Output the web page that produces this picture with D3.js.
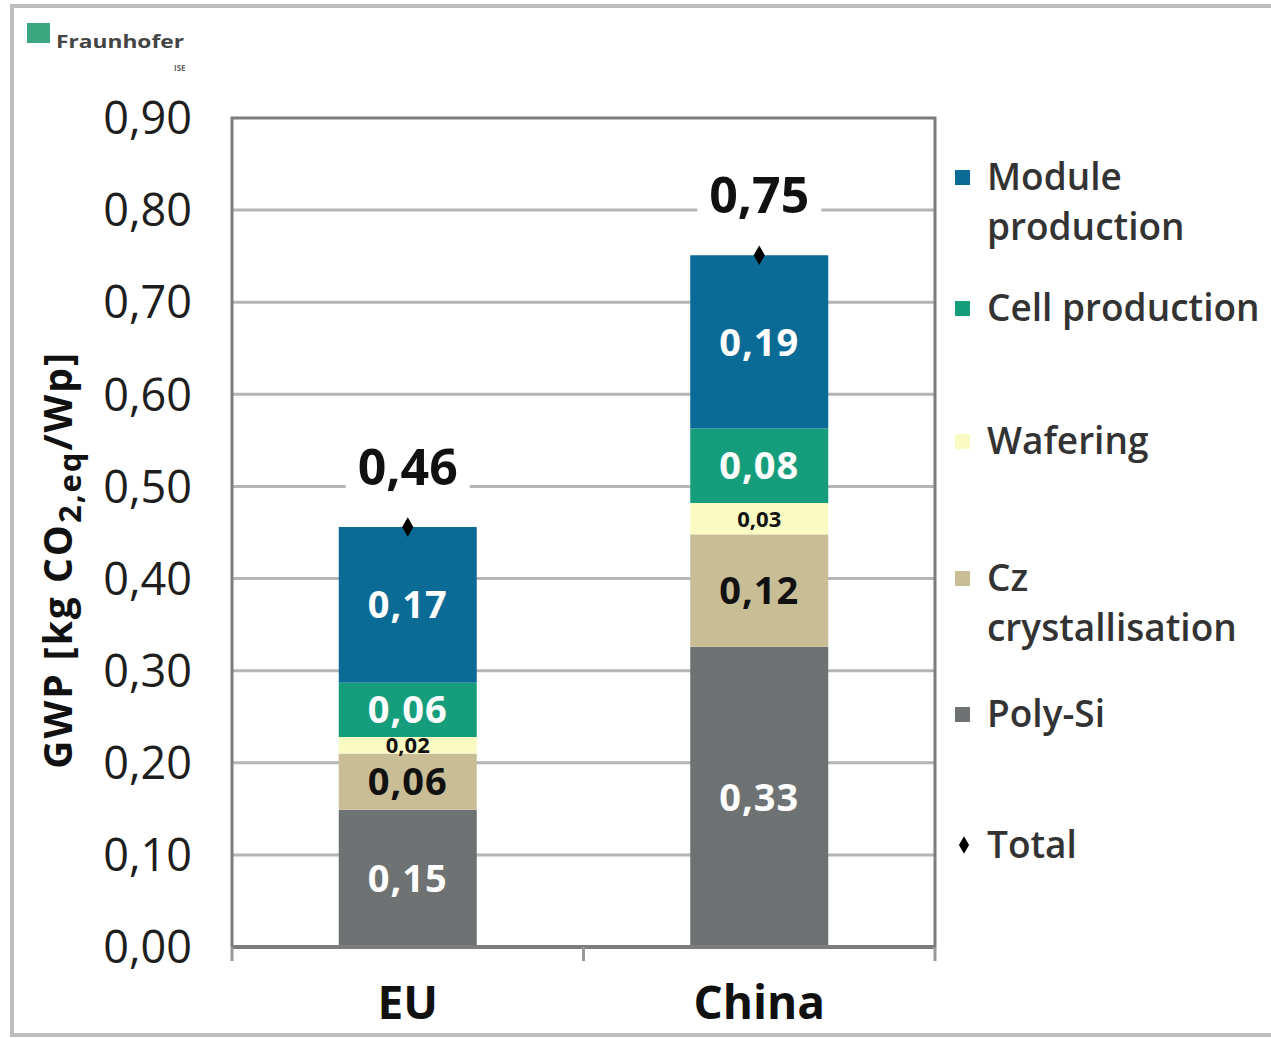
<!DOCTYPE html>
<html><head><meta charset="utf-8">
<script src="https://cdn.jsdelivr.net/npm/d3@7"></script>
<style>body{margin:0;background:#fff;}svg{display:block;}</style>
</head><body>
<svg id="c" width="1271" height="1038"></svg>
<script>
const categories = ["EU", "China"];
const seriesNames = ["Poly-Si", "Cz crystallisation", "Wafering", "Cell production", "Module production"];
const euValues = [0.149, 0.061, 0.018, 0.059, 0.169];
const chinaValues = [0.326, 0.122, 0.034, 0.081, 0.188];
const seriesColors = ["#6e7272", "#c9bd95", "#fafbc2", "#169e7c", "#0b6b97"];
const labelColors = ["#ffffff", "#111111", "#111111", "#ffffff", "#ffffff"];
const legendLines = [["Poly-Si"], ["Cz", "crystallisation"], ["Wafering"], ["Cell production"], ["Module", "production"]];
const yTicks = [0, 0.1, 0.2, 0.3, 0.4, 0.5, 0.6, 0.7, 0.8, 0.9];
const yTitle = "GWP [kg CO";

const svg = d3.select("#c");
const fmt = v => v.toFixed(2).replace(".", ",");
const FONT = "'Open Sans', 'Noto Sans', sans-serif";

// outer frame
svg.append("rect").attr("x", 12).attr("y", 6).attr("width", 1300).attr("height", 1029)
  .attr("fill", "none").attr("stroke", "#bdbdbd").attr("stroke-width", 4);

// logo
svg.append("rect").attr("x", 27).attr("y", 23).attr("width", 23).attr("height", 20).attr("fill", "#3aa57e");
svg.append("text").attr("x", 56).attr("y", 48).attr("font-family", FONT).attr("font-size", 18)
  .attr("font-weight", 700).attr("fill", "#444").attr("textLength", 128).attr("lengthAdjust", "spacingAndGlyphs").text("Fraunhofer");
svg.append("text").attr("x", 174).attr("y", 71).attr("font-family", FONT).attr("font-size", 8)
  .attr("font-weight", 700).attr("fill", "#666").text("ISE");

const x0 = 232, x1 = 935, yTop = 118, yBot = 947;
const y = d3.scaleLinear().domain([0, 0.9]).range([yBot, yTop]);
const x = d3.scaleBand().domain(categories).range([x0, x1]).paddingInner(0.6).paddingOuter(0.3);

// gridlines
svg.append("g").selectAll("line").data(yTicks.filter(t => t > 0 && t < 0.9)).join("line")
  .attr("x1", x0).attr("x2", x1).attr("y1", d => y(d)).attr("y2", d => y(d))
  .attr("stroke", "#b5b5b5").attr("stroke-width", 3);

// plot frame (left, top, right)
svg.append("path").attr("d", `M${x0},${yBot} V${yTop} H${x1} V${yBot}`)
  .attr("fill", "none").attr("stroke", "#7d7d7d").attr("stroke-width", 3);

// y axis tick labels
const yAxis = d3.axisLeft(y).tickValues(yTicks).tickSize(0).tickPadding(40).tickFormat(fmt);
const gy = svg.append("g").attr("transform", `translate(${x0},0)`).call(yAxis);
gy.select(".domain").remove();
gy.selectAll("text").attr("font-family", FONT).attr("font-size", 45).attr("fill", "#1e1e1e").attr("dy", "0.35em");

// stacked data
const rows = categories.map((c, i) => {
  const obj = { cat: c };
  const vals = i === 0 ? euValues : chinaValues;
  seriesNames.forEach((s, j) => obj[s] = vals[j]);
  return obj;
});
const stack = d3.stack().keys(seriesNames)(rows);

const bw = 138;
stack.forEach((layer, li) => {
  const g = svg.append("g");
  g.selectAll("rect").data(layer).join("rect")
    .attr("x", d => x(d.data.cat) + x.bandwidth() / 2 - bw / 2)
    .attr("width", bw)
    .attr("y", d => y(d[1]))
    .attr("height", d => y(d[0]) - y(d[1]))
    .attr("fill", seriesColors[li]);
  g.selectAll("text").data(layer).join("text")
    .attr("x", d => x(d.data.cat) + x.bandwidth() / 2)
    .attr("y", d => (y(d[0]) + y(d[1])) / 2)
    .attr("dy", "0.36em")
    .attr("text-anchor", "middle")
    .attr("font-family", FONT).attr("font-weight", 700)
    .attr("font-size", d => (d[1] - d[0]) < 0.05 ? 22 : 38)
    .attr("letter-spacing", d => (d[1] - d[0]) < 0.05 ? 0 : 1)
    .attr("fill", labelColors[li])
    .text(d => fmt(d[1] - d[0]));
});

// x axis
svg.append("line").attr("x1", x0).attr("x2", x1).attr("y1", yBot).attr("y2", yBot)
  .attr("stroke", "#7d7d7d").attr("stroke-width", 4);
const xAxis = d3.axisBottom(x).tickSize(0).tickPadding(39);
const gx = svg.append("g").attr("transform", `translate(0,${yBot})`).call(xAxis);
gx.select(".domain").remove();
gx.selectAll("text").attr("font-family", FONT).attr("font-size", 46).attr("font-weight", 700).attr("fill", "#111");
// category boundary ticks
const bounds = [x0, (x0 + x1) / 2, x1];
svg.append("g").selectAll("line").data(bounds).join("line")
  .attr("x1", d => d).attr("x2", d => d).attr("y1", yBot).attr("y2", yBot + 14)
  .attr("stroke", "#999").attr("stroke-width", 3);

// totals
const totals = rows.map((r, i) => ({ cat: r.cat, v: d3.sum(i === 0 ? euValues : chinaValues) }));
svg.append("g").selectAll("path").data(totals).join("path")
  .attr("d", d3.symbol().type(d3.symbolDiamond).size(110))
  .attr("transform", d => `translate(${x(d.cat) + x.bandwidth() / 2},${y(d.v)})`)
  .attr("fill", "#000");
const tg = svg.append("g").selectAll("g").data(totals).join("g")
  .attr("transform", d => `translate(${x(d.cat) + x.bandwidth() / 2},${y(d.v) - 60})`);
tg.append("rect").attr("x", -62).attr("y", -30).attr("width", 124).attr("height", 58).attr("fill", "#fff");
tg.append("text").attr("text-anchor", "middle").attr("dy", "0.36em")
  .attr("font-family", FONT).attr("font-weight", 700).attr("font-size", 50).attr("fill", "#111")
  .text(d => fmt(d.v));

// y title
const yt = svg.append("text").attr("transform", "translate(72,560) rotate(-90)")
  .attr("text-anchor", "middle").attr("font-family", FONT).attr("font-weight", 700)
  .attr("font-size", 39).attr("fill", "#111").attr("letter-spacing", 2);
yt.append("tspan").text(yTitle);
yt.append("tspan").attr("font-size", 31).attr("dy", 9).text("2,eq");
yt.append("tspan").attr("dy", -9).text("/Wp]");

// legend
const legendY = [714, 578, 441, 308, 177];
const lg = svg.append("g");
seriesNames.forEach((s, i) => {
  lg.append("rect").attr("x", 955).attr("y", legendY[i] - 7).attr("width", 15).attr("height", 15).attr("fill", seriesColors[i]);
  const t = lg.append("text").attr("x", 987).attr("y", legendY[i]).attr("dy", "0.36em")
    .attr("font-family", FONT).attr("font-weight", 600).attr("font-size", 37).attr("fill", "#333");
  legendLines[i].forEach((ln, k) => t.append("tspan").attr("x", 987).attr("dy", k === 0 ? "0.36em" : 50).text(ln));
});
lg.append("path").attr("d", d3.symbol().type(d3.symbolDiamond).size(90))
  .attr("transform", "translate(964,845)").attr("fill", "#000");
lg.append("text").attr("x", 987).attr("y", 845).attr("dy", "0.36em")
  .attr("font-family", FONT).attr("font-weight", 600).attr("font-size", 37).attr("fill", "#333").text("Total");
</script>
</body></html>
